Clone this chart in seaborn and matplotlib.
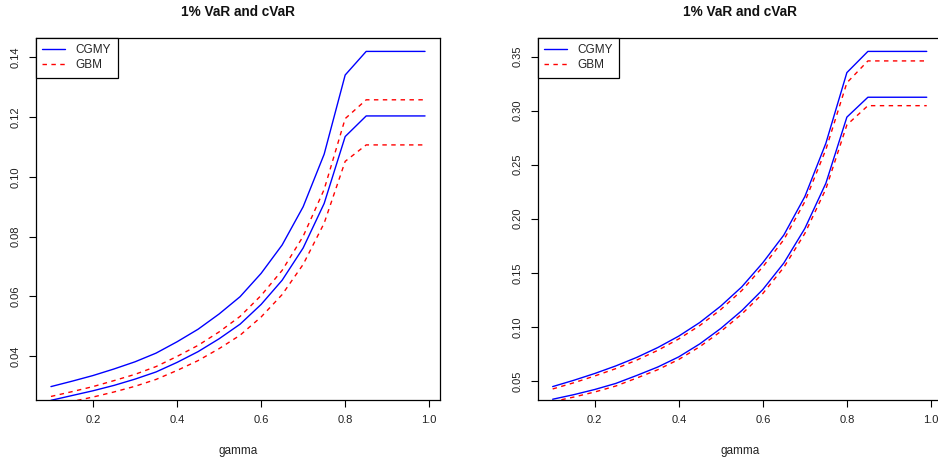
import matplotlib
matplotlib.use("Agg")
import matplotlib.pyplot as plt
import seaborn as sns

# ---------------- data ----------------
gamma = [0.10, 0.15, 0.20, 0.25, 0.30, 0.35, 0.40, 0.45, 0.50, 0.55,
         0.60, 0.65, 0.70, 0.75, 0.80, 0.85, 0.90, 0.95, 0.99]

# left panel
cgmy_cvar_left = [0.0298, 0.0316, 0.0335, 0.0357, 0.0381, 0.0410, 0.0448, 0.0490, 0.0541, 0.0599,
                  0.0677, 0.0772, 0.0900, 0.1076, 0.1341, 0.1420, 0.1420, 0.1420, 0.1420]
gbm_cvar_left = [0.0265, 0.0281, 0.0298, 0.0318, 0.0339, 0.0365, 0.0399, 0.0436, 0.0481, 0.0533,
                 0.0603, 0.0687, 0.0801, 0.0958, 0.1195, 0.1258, 0.1258, 0.1258, 0.1258]
cgmy_var_left = [0.0252, 0.0268, 0.0284, 0.0302, 0.0323, 0.0347, 0.0379, 0.0415, 0.0458, 0.0507,
                 0.0573, 0.0654, 0.0762, 0.0911, 0.1135, 0.1204, 0.1204, 0.1204, 0.1204]
gbm_var_left = [0.0234, 0.0248, 0.0263, 0.0280, 0.0299, 0.0322, 0.0352, 0.0385, 0.0425, 0.0470,
                0.0531, 0.0606, 0.0707, 0.0845, 0.1052, 0.1107, 0.1107, 0.1107, 0.1107]

# right panel
cgmy_cvar_right = [0.0447, 0.0505, 0.0568, 0.0638, 0.0717, 0.0808, 0.0914, 0.1040, 0.1192, 0.1370,
                   0.1593, 0.1849, 0.2205, 0.2698, 0.3352, 0.3548, 0.3548, 0.3548, 0.3548]
gbm_cvar_right = [0.0425, 0.0482, 0.0545, 0.0613, 0.0692, 0.0782, 0.0888, 0.1012, 0.1160, 0.1336,
                  0.1555, 0.1806, 0.2158, 0.2640, 0.3258, 0.3460, 0.3460, 0.3460, 0.3460]
cgmy_var_right = [0.0330, 0.0372, 0.0420, 0.0476, 0.0550, 0.0628, 0.0722, 0.0842, 0.0985, 0.1150,
                  0.1345, 0.1590, 0.1910, 0.2328, 0.2940, 0.3124, 0.3124, 0.3124, 0.3124]
gbm_var_right = [0.0308, 0.0350, 0.0397, 0.0452, 0.0526, 0.0603, 0.0698, 0.0816, 0.0957, 0.1118,
                 0.1308, 0.1550, 0.1864, 0.2275, 0.2868, 0.3046, 0.3046, 0.3046, 0.3046]

x_ticks = [0.2, 0.4, 0.6, 0.8, 1.0]
y_ticks_left = [0.04, 0.06, 0.08, 0.10, 0.12, 0.14]
y_ticks_right = [0.05, 0.10, 0.15, 0.20, 0.25, 0.30, 0.35]
title = "1% VaR and cVaR"
xlabel = "gamma"
legend_labels = ["CGMY", "GBM"]

# ---------------- style ----------------
sns.set_style("white")
plt.rcParams["font.family"] = ["Liberation Sans", "DejaVu Sans"]
FS = 8.0
BLUE = "#0000FF"
RED = "#FF0000"
LW = 1.0

fig = plt.figure(figsize=(9.38, 4.62), dpi=100)
ax_l = fig.add_axes([36 / 938, 62 / 462, 404 / 938, 362 / 462])
ax_r = fig.add_axes([537.7 / 938, 62 / 462, 404 / 938, 362 / 462])


def draw(ax, cgmy_cvar, gbm_cvar, cgmy_var, gbm_var, yticks, yfmt):
    sns.lineplot(x=gamma, y=cgmy_cvar, ax=ax, color=BLUE, lw=LW, label=legend_labels[0])
    sns.lineplot(x=gamma, y=gbm_cvar, ax=ax, color=RED, lw=LW, linestyle=(0, (3.2, 3.2)),
                 label=legend_labels[1])
    sns.lineplot(x=gamma, y=cgmy_var, ax=ax, color=BLUE, lw=LW, label="_nolegend_")
    sns.lineplot(x=gamma, y=gbm_var, ax=ax, color=RED, lw=LW, linestyle=(0, (3.2, 3.2)),
                 label="_nolegend_")
    # R-style ranges: from first series, extended by 4%
    xmin, xmax = min(gamma), max(gamma)
    dx = (xmax - xmin) * 0.04
    ax.set_xlim(xmin - dx, xmax + dx)
    ymin, ymax = min(cgmy_cvar), max(cgmy_cvar)
    dy = (ymax - ymin) * 0.04
    ax.set_ylim(ymin - dy, ymax + dy)

    ax.set_xticks(x_ticks)
    ax.set_xticklabels([f"{t:.1f}" for t in x_ticks])
    ax.set_yticks(yticks)
    ax.set_yticklabels([yfmt.format(t) for t in yticks])
    ax.tick_params(axis="both", which="major", direction="out", length=5, width=0.8,
                   color="black", labelsize=FS, labelcolor="#222222", pad=6, left=True, bottom=True)
    for lab in ax.get_yticklabels():
        lab.set_rotation(90)
        lab.set_va("center")
    for sp in ax.spines.values():
        sp.set_visible(True)
        sp.set_color("black")
        sp.set_linewidth(0.9)
    ax.set_title(title, fontsize=9.8, fontweight="bold", pad=15.5, color="#111111")
    ax.set_xlabel(xlabel, fontsize=8.5, labelpad=14, color="#222222")
    ax.set_ylabel("")
    ax.grid(False)
    leg = ax.legend(loc="upper left", bbox_to_anchor=(0, 1), borderaxespad=0, fancybox=False,
                    frameon=True, edgecolor="black", framealpha=1, fontsize=FS + 0.5,
                    handlelength=1.9, handletextpad=0.9, borderpad=0.55, labelspacing=0.25)
    leg.get_frame().set_linewidth(0.9)


draw(ax_l, cgmy_cvar_left, gbm_cvar_left, cgmy_var_left, gbm_var_left, y_ticks_left, "{:.2f}")
draw(ax_r, cgmy_cvar_right, gbm_cvar_right, cgmy_var_right, gbm_var_right, y_ticks_right, "{:.2f}")

fig.savefig("out.png", dpi=100)
